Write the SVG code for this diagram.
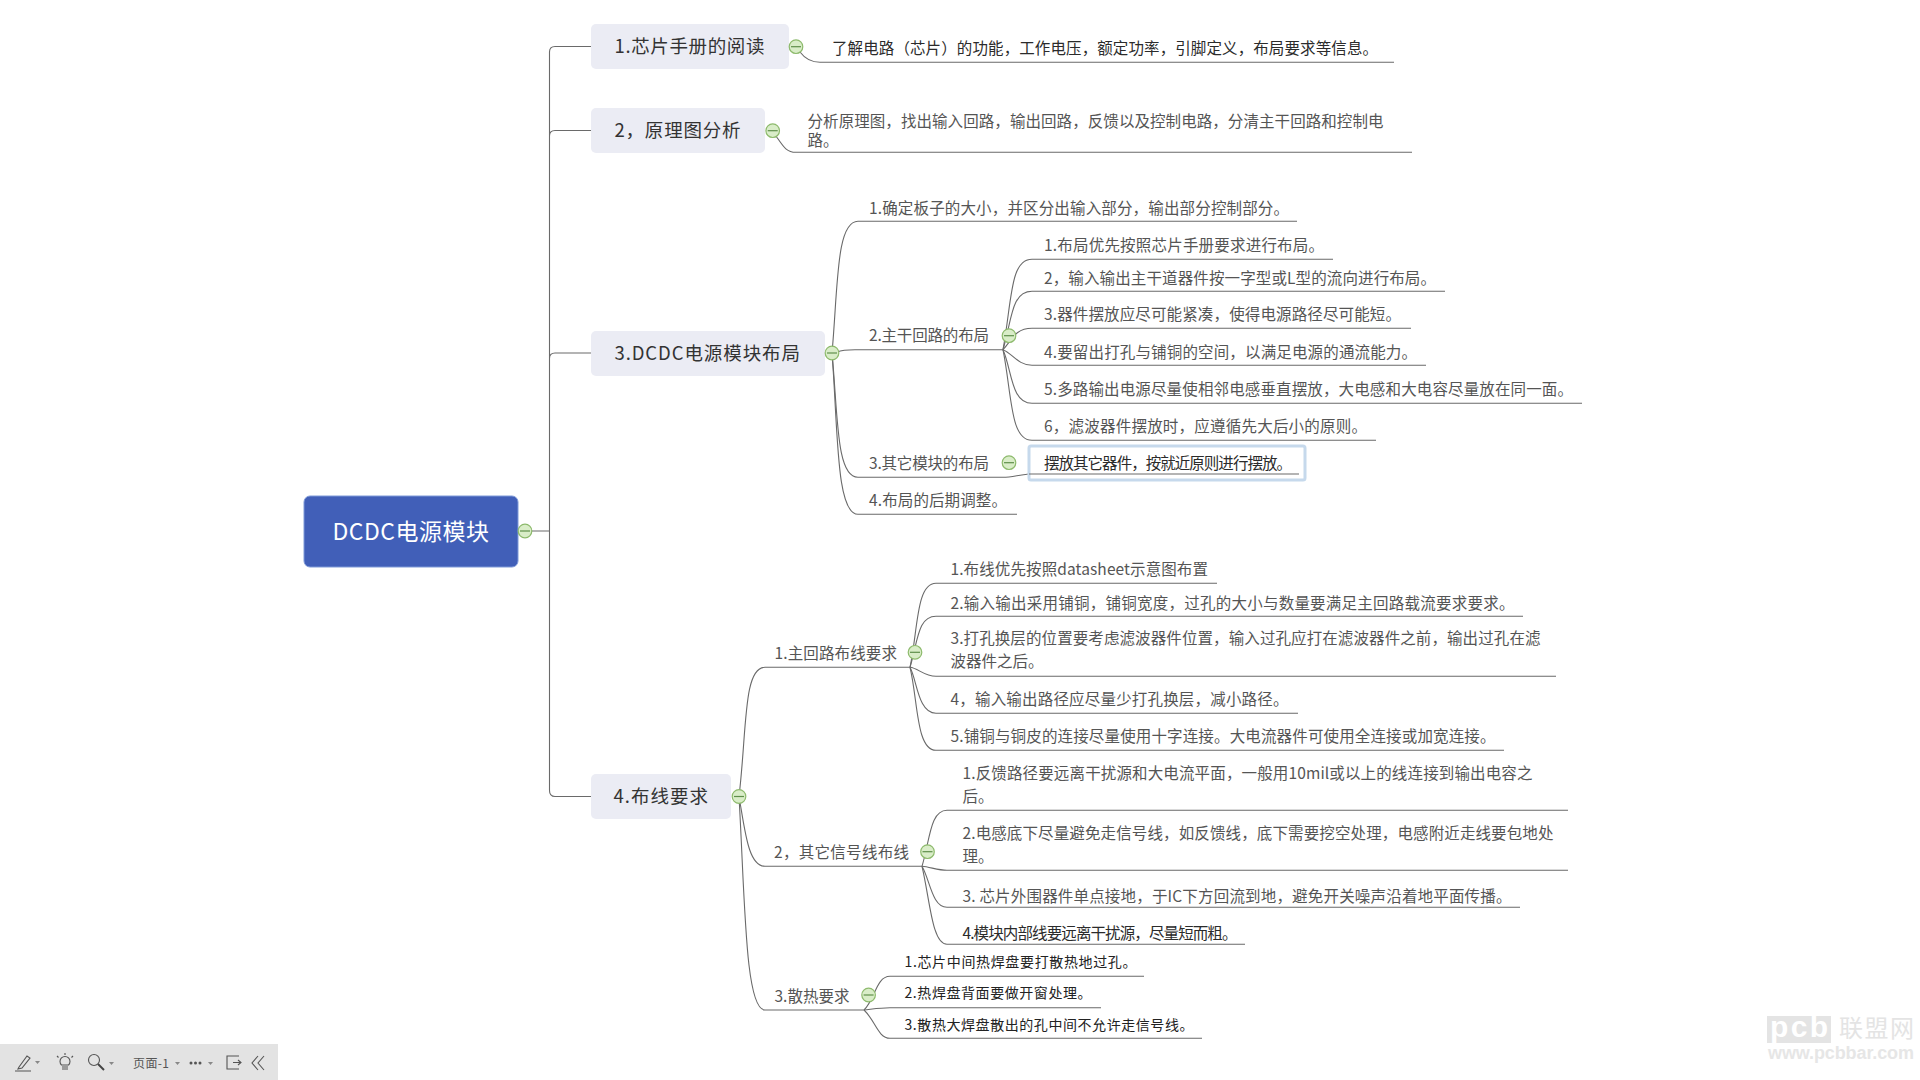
<svg xmlns="http://www.w3.org/2000/svg" xmlns:xlink="http://www.w3.org/1999/xlink" width="1920" height="1080" viewBox="0 0 1920 1080">
<style>
text{font-family:"Noto Sans CJK SC","Noto Sans",sans-serif;white-space:pre}
.l{fill:none;stroke:#6a6a6a;stroke-width:1.1}
.box{fill:#ebecf4}
.t1{font-size:18.500px;fill:#333}
.t2{font-size:15.500px;fill:#555}
.d{font-size:15.500px;fill:#2b2b2b}
.s{font-size:14px;fill:#222}
.tb{fill:none;stroke:#555;stroke-width:1.1}
.tri{fill:#888}
</style>
<defs>
<g id="tg"><circle r="6.800" fill="#d9edc8" stroke="#8dba6c" stroke-width="1.200"/><path d="M-5 0H5" stroke="#5f8f4a" stroke-width="1.200"/></g>
</defs>
<rect width="1920" height="1080" fill="#fff"/>
<g id="connectors">
<path class="l" d="M524 531H549.500M549.500 531V52Q549.500 46.500 555 46.500H591M549.500 136Q549.500 130.500 555 130.500H591M549.500 358.500Q549.500 353 555 353H591M549.500 531V790.500Q549.500 796.500 555 796.500H591"/>
<path class="l" d="M800 52C806 60 812 62.300 820 62.300H1394"/>
<path class="l" d="M776 136C783 146 786 152.300 796 152.300H1412"/>
<path class="l" d="M832 353C838 287 836 221.300 858 221.300H1297"/>
<path class="l" d="M837 352C842 350 846 349.700 855 349.700H1003"/>
<path class="l" d="M832 353C838 415 836 477.300 858 477.300H1003C1012 477.300 1018 475 1029 474"/>
<path class="l" d="M832 353C838 430 836 514.300 858 514.300H1017"/>
<path class="l" d="M1003 349.700C1012 300 1010 259.300 1032 259.300H1333"/>
<path class="l" d="M1003 349.700C1012 320 1011 291.300 1032 291.300H1445"/>
<path class="l" d="M1003 349.700C1012 340 1015 328.300 1032 328.300H1411"/>
<path class="l" d="M1003 349.700C1012 353 1018 365.300 1032 365.300H1426"/>
<path class="l" d="M1003 349.700C1012 370 1011 403.300 1032 403.300H1582"/>
<path class="l" d="M1003 349.700C1012 395 1010 440.300 1032 440.300H1376"/>
<path class="l" d="M739 796.500C747 730 743 667.300 765 667.300H910"/>
<path class="l" d="M739 796.500C745 830 748 866.300 765 866.300H922"/>
<path class="l" d="M739 796.500C745 900 745 1010 765 1010H864"/>
<path class="l" d="M910 667.300C918 630 916 583.300 936 583.300H1217"/>
<path class="l" d="M910 667.300C918 640 918 616.300 936 616.300H1523"/>
<path class="l" d="M910 667.300C918 668 924 676.300 936 676.300H1556"/>
<path class="l" d="M910 667.300C917 680 918 713.300 936 713.300H1298"/>
<path class="l" d="M910 667.300C918 700 916 750.300 936 750.300H1504"/>
<path class="l" d="M922 866.300C930 840 930 810.300 947 810.300H1568"/>
<path class="l" d="M922 866.300C930 867 938 870.300 947 870.300H1568"/>
<path class="l" d="M922 866.300C930 880 932 907.300 947 907.300H1520"/>
<path class="l" d="M922 866.300C930 900 932 944.300 947 944.300H1245"/>
<path class="l" d="M864 1010C875 1000 876 976.300 890 976.300H1144"/>
<path class="l" d="M864 1010C873 1009 880 1007.700 890 1007.700H1101"/>
<path class="l" d="M864 1010C875 1020 878 1038.300 890 1038.300H1202"/>
</g>
<g id="root"><rect x="304" y="496" width="214" height="71" rx="6" fill="#415fb8" stroke="#7f9ad8" stroke-width="1"/><text x="332.500" y="540" font-size="23" fill="#fff" textLength="156.500">DCDC电源模块</text><use href="#tg" x="525" y="531"/></g>
<g id="n1"><rect class="box" x="591" y="24" width="198" height="45" rx="5"/><text class="t1" x="614.500" y="53" textLength="150">1.芯片手册的阅读</text><use href="#tg" x="796" y="46.700"/></g>
<g id="n2"><rect class="box" x="591" y="108" width="174" height="45" rx="5"/><text class="t1" x="614.500" y="137" textLength="126">2，原理图分析</text><use href="#tg" x="772.700" y="130.700"/></g>
<g id="n3"><rect class="box" x="591" y="331" width="234" height="45" rx="5"/><text class="t1" x="614.500" y="359.500" textLength="185.500">3.DCDC电源模块布局</text><use href="#tg" x="832" y="353"/></g>
<g id="n4"><rect class="box" x="591" y="774" width="140" height="45" rx="5"/><text class="t1" x="613.500" y="802.500" textLength="94.500">4.布线要求</text><use href="#tg" x="739" y="796.500"/></g>
<g id="n1-1"><text class="d" x="832" y="53.500" textLength="546">了解电路（芯片）的功能，工作电压，额定功率，引脚定义，布局要求等信息。</text></g>
<g id="n2-1"><text class="t2" x="807.500" y="127" textLength="576">分析原理图，找出输入回路，输出回路，反馈以及控制电路，分清主干回路和控制电</text><text class="t2" x="807.500" y="145.500">路。</text></g>
<g id="n3-1"><text class="t2" x="869" y="213.500" textLength="420">1.确定板子的大小，并区分出输入部分，输出部分控制部分。</text></g>
<g id="n3-2"><text class="t2" x="869" y="341" textLength="120">2.主干回路的布局</text><use href="#tg" x="1009" y="335.700"/></g>
<g id="n3-2-1"><text class="t2" x="1044" y="251" textLength="280">1.布局优先按照芯片手册要求进行布局。</text></g>
<g id="n3-2-2"><text class="t2" x="1044" y="283.500" textLength="392">2，输入输出主干道器件按一字型或L型的流向进行布局。</text></g>
<g id="n3-2-3"><text class="t2" x="1044" y="319.500" textLength="357">3.器件摆放应尽可能紧凑，使得电源路径尽可能短。</text></g>
<g id="n3-2-4"><text class="t2" x="1044" y="357.500" textLength="373">4.要留出打孔与铺铜的空间，以满足电源的通流能力。</text></g>
<g id="n3-2-5"><text class="t2" x="1044" y="394.500" textLength="529">5.多路输出电源尽量使相邻电感垂直摆放，大电感和大电容尽量放在同一面。</text></g>
<g id="n3-2-6"><text class="t2" x="1044" y="432" textLength="323">6，滤波器件摆放时，应遵循先大后小的原则。</text></g>
<g id="n3-3"><text class="t2" x="869" y="468.500" textLength="120">3.其它模块的布局</text><use href="#tg" x="1009" y="462.700"/></g>
<g id="n3-3-1"><rect x="1029" y="446" width="276" height="34" rx="2" fill="#fff" stroke="#c6d9ec" stroke-width="3"/><path class="l" d="M1029 474H1299"/><text class="d" x="1044" y="468.500" textLength="248">摆放其它器件，按就近原则进行摆放。</text></g>
<g id="n3-4"><text class="t2" x="869" y="505.500" textLength="138">4.布局的后期调整。</text></g>
<g id="n4-1"><text class="t2" x="774.500" y="659" textLength="122.500">1.主回路布线要求</text><use href="#tg" x="915" y="652.300"/></g>
<g id="n4-1-1"><text class="t2" x="950.500" y="575" textLength="257.500">1.布线优先按照datasheet示意图布置</text></g>
<g id="n4-1-2"><text class="t2" x="950.500" y="609" textLength="564">2.输入输出采用铺铜，铺铜宽度，过孔的大小与数量要满足主回路载流要求要求。</text></g>
<g id="n4-1-3"><text class="t2" x="950.500" y="644" textLength="590">3.打孔换层的位置要考虑滤波器件位置，输入过孔应打在滤波器件之前，输出过孔在滤</text><text class="t2" x="950.500" y="667">波器件之后。</text></g>
<g id="n4-1-4"><text class="t2" x="950.500" y="704.500" textLength="338">4，输入输出路径应尽量少打孔换层，减小路径。</text></g>
<g id="n4-1-5"><text class="t2" x="950.500" y="742" textLength="545">5.铺铜与铜皮的连接尽量使用十字连接。大电流器件可使用全连接或加宽连接。</text></g>
<g id="n4-2"><text class="t2" x="774" y="857.500" textLength="135">2，其它信号线布线</text><use href="#tg" x="927.500" y="851.700"/></g>
<g id="n4-2-1"><text class="t2" x="962.500" y="779" textLength="570">1.反馈路径要远离干扰源和大电流平面，一般用10mil或以上的线连接到输出电容之</text><text class="t2" x="962.500" y="802">后。</text></g>
<g id="n4-2-2"><text class="t2" x="962.500" y="839" textLength="591">2.电感底下尽量避免走信号线，如反馈线，底下需要挖空处理，电感附近走线要包地处</text><text class="t2" x="962.500" y="862">理。</text></g>
<g id="n4-2-3"><text class="t2" x="962.500" y="901.500" textLength="549">3. 芯片外围器件单点接地，于IC下方回流到地，避免开关噪声沿着地平面传播。</text></g>
<g id="n4-2-4"><text class="d" x="962.500" y="939" textLength="275">4.模块内部线要远离干扰源，尽量短而粗。</text></g>
<g id="n4-3"><text class="t2" x="774.500" y="1001.500" textLength="75">3.散热要求</text><use href="#tg" x="868.600" y="995"/></g>
<g id="n4-3-1"><text class="s" x="904.500" y="967" textLength="232">1.芯片中间热焊盘要打散热地过孔。</text></g>
<g id="n4-3-2"><text class="s" x="904.500" y="998" textLength="187">2.热焊盘背面要做开窗处理。</text></g>
<g id="n4-3-3"><text class="s" x="904.500" y="1030" textLength="289">3.散热大焊盘散出的孔中间不允许走信号线。</text></g>
<g id="toolbar">
<rect x="0" y="1044" width="278" height="36" fill="#e3e3e3"/>
<path class="tb" d="M15 1071H31M19 1067L27 1056L30 1058L22 1068L18 1069Z"/><path class="tri" d="M35 1061h5l-2.500 3z"/>
<path class="tb" d="M62 1067h6M62 1069h6M61.500 1065a5 5 0 1 1 7 0zM65 1053v2M57 1056l1.500 1.500M73 1056l-1.500 1.500"/>
<circle class="tb" cx="94" cy="1060" r="5.500"/><path d="M98 1064L104 1070" stroke="#444" stroke-width="2"/><path class="tri" d="M109 1062h5l-2.500 3z"/>
<text x="133" y="1067.500" font-size="12" fill="#555" textLength="36">页面-1</text><path class="tri" d="M175 1062h5l-2.500 3z"/>
<circle cx="191" cy="1063" r="1.500" fill="#555"/><circle cx="195.500" cy="1063" r="1.500" fill="#555"/><circle cx="200" cy="1063" r="1.500" fill="#555"/><path class="tri" d="M208 1062h5l-2.500 3z"/>
<path class="tb" d="M239 1056H227V1069H239M233 1062.500H241M238 1060L241 1062.500L238 1065"/>
<path class="tb" d="M258 1056L252 1063L258 1070M264 1056L258 1063L264 1070"/>
</g>
<g id="watermark">
<rect x="1767" y="1016" width="64" height="27" fill="#e4e4e4"/>
<text x="1770" y="1037" font-size="30" font-weight="700" fill="#fff" textLength="58" style="font-family:'Liberation Sans',sans-serif">pcb</text>
<text x="1839" y="1037" font-size="24" fill="#e4e4e4" textLength="75">联盟网</text>
<text x="1768" y="1059" font-size="18" font-weight="700" fill="#e6e6e6" textLength="146" style="font-family:'Liberation Sans',sans-serif">www.pcbbar.com</text>
</g>
</svg>
